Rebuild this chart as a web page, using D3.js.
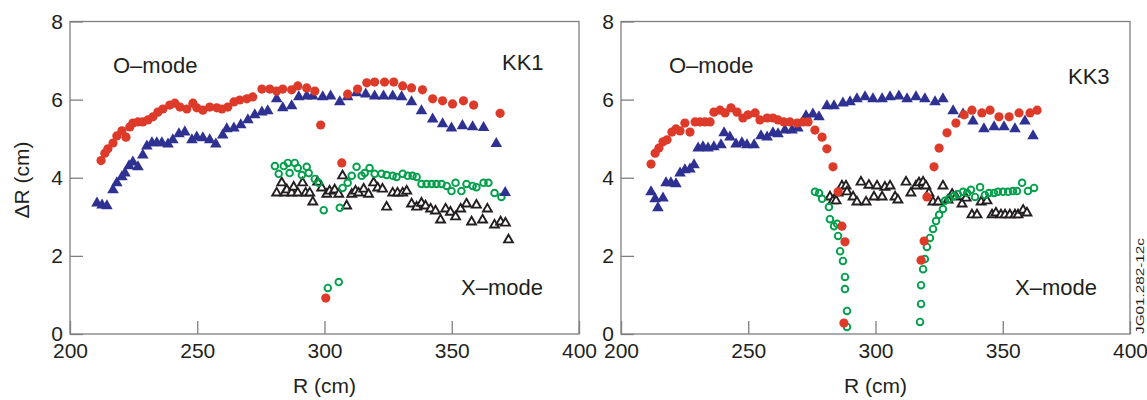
<!DOCTYPE html>
<html>
<head>
<meta charset="utf-8">
<script src="https://cdn.jsdelivr.net/npm/d3@7"></script>
<style>
  body { margin: 0; background: #fff; }
  svg { display: block; font-family: "Liberation Sans", Arial, sans-serif; }
  .frame { fill: none; stroke: #7f7f7f; stroke-width: 1.3; }
  .axis path { display: none; }
  .axis line { stroke: #7f7f7f; stroke-width: 1.3; }
  .axis text { font-size: 21px; fill: #231f20; font-family: "Liberation Sans", Arial, sans-serif; }
  .lbl { font-size: 21px; fill: #231f20; }
  .mode { font-size: 22px; fill: #231f20; }
</style>
</head>
<body>
<script>
'use strict';

// [R (cm), dR (cm)]
const kk1Red = [
  [212.2,4.44],[213.7,4.63],[214.9,4.74],[216.9,4.89],[218.4,5.07],[220.4,5.20],[222.0,5.04],
  [223.5,5.30],[224.7,5.40],[226.7,5.43],[228.6,5.43],[230.6,5.48],[232.6,5.56],[234.5,5.68],
  [236.5,5.76],[239.2,5.86],[241.2,5.91],[243.2,5.81],[245.9,5.76],[248.3,5.91],[249.8,5.79],
  [252.2,5.73],[254.9,5.81],[257.7,5.79],[259.7,5.76],[262.0,5.81],[264.4,5.94],[266.7,5.99],
  [269.5,6.02],[271.8,6.07],[275.4,6.27],[278.5,6.27],[281.2,6.22],[283.6,6.27],[287.1,6.25],
  [289.5,6.35],[293.0,6.30],[296.2,6.22],[298.5,5.35],[300.5,0.92],[306.8,4.38],[309.1,6.14],
  [313.0,6.27],[316.6,6.43],[319.7,6.45],[323.6,6.45],[327.2,6.45],[330.7,6.35],[334.2,6.30],
  [338.5,6.25],[342.5,6.02],[346.4,5.97],[350.3,5.89],[354.6,5.97],[358.6,5.86],[369.0,5.65]
];
const kk1Blue = [
  [210.6,3.35],[212.6,3.30],[214.5,3.28],[216.9,3.69],[218.4,3.87],[220.4,4.02],[221.6,4.12],
  [223.2,4.30],[224.7,4.40],[226.7,4.28],[228.6,4.58],[230.2,4.81],[232.2,4.89],[234.1,4.89],
  [236.1,4.89],[238.5,4.86],[240.4,4.97],[242.8,5.12],[245.1,5.17],[247.9,4.97],[249.8,5.04],
  [252.2,5.02],[254.9,4.97],[257.3,4.86],[260.0,5.09],[261.6,5.25],[264.4,5.27],[267.1,5.35],
  [269.9,5.48],[272.6,5.61],[275.4,5.68],[277.7,5.71],[281.2,6.02],[283.6,5.79],[287.1,5.84],
  [289.9,6.07],[293.0,6.09],[295.4,6.09],[299.3,6.07],[302.4,6.09],[306.0,5.94],[309.1,6.07],
  [312.6,6.17],[316.2,6.14],[319.7,6.09],[323.2,6.09],[326.8,6.09],[330.3,6.07],[334.2,5.94],
  [338.1,5.71],[342.5,5.50],[346.4,5.38],[349.9,5.27],[354.2,5.33],[358.2,5.30],[362.5,5.28],
  [367.5,4.87],[371.0,3.62]
];
const kk1Green = [
  [280.5,4.30],[282.0,4.10],[284.0,4.30],[285.6,4.38],[286.3,4.12],[288.3,4.38],[289.5,4.25],
  [291.1,4.07],[293.0,4.28],[293.8,4.12],[296.2,3.97],[297.7,3.87],[299.7,3.17],[301.3,1.18],
  [305.6,1.33],[306.0,3.23],[307.1,3.74],[309.1,3.87],[310.7,4.05],[312.6,4.28],[314.6,4.05],
  [315.8,4.12],[317.7,4.25],[319.7,4.10],[322.4,4.10],[324.4,4.07],[326.8,4.05],[328.3,4.02],
  [330.7,4.10],[332.7,4.05],[334.6,4.05],[336.2,4.02],[338.1,3.84],[340.1,3.84],[342.1,3.84],
  [344.0,3.84],[346.0,3.84],[348.0,3.79],[349.9,3.66],[351.5,3.87],[353.8,3.66],[355.8,3.84],
  [358.2,3.79],[359.7,3.76],[362.5,3.87],[364.4,3.87],[366.8,3.61],[369.5,3.51]
];
const kk1Black = [
  [281.2,3.61],[283.2,3.87],[284.4,3.61],[285.2,3.69],[287.1,3.61],[287.9,3.76],[289.5,3.61],
  [291.4,3.87],[292.6,3.61],[294.2,3.61],[295.4,3.38],[297.3,3.89],[298.9,3.74],[300.9,3.58],
  [302.0,3.66],[304.0,3.69],[305.6,3.58],[307.1,4.05],[308.7,3.28],[310.7,3.58],[312.2,3.66],
  [313.4,3.61],[315.4,3.71],[317.3,3.58],[319.3,3.87],[320.9,3.74],[322.8,3.71],[324.4,3.25],
  [326.8,3.61],[328.7,3.61],[330.7,3.61],[332.3,3.66],[334.2,3.33],[336.2,3.25],[338.1,3.35],
  [339.7,3.28],[341.7,3.20],[343.6,3.15],[345.6,2.92],[347.6,3.20],[349.5,3.12],[351.5,3.00],
  [353.5,3.20],[355.8,3.33],[357.8,2.87],[359.7,3.30],[362.1,2.92],[364.0,3.20],[366.8,2.79],
  [369.2,2.87],[371.1,2.84],[372.3,2.41]
];

const kk3Red = [
  [211.8,4.35],[213.4,4.63],[214.9,4.76],[216.5,4.92],[218.1,4.97],[220.0,5.17],[221.6,5.25],
  [223.2,5.20],[225.1,5.40],[227.1,5.17],[229.1,5.43],[231.0,5.43],[233.0,5.43],[235.0,5.43],
  [236.5,5.68],[238.9,5.73],[240.9,5.66],[243.2,5.79],[245.6,5.68],[247.9,5.53],[249.9,5.61],
  [252.7,5.66],[254.6,5.48],[257.4,5.53],[259.7,5.53],[261.7,5.48],[264.0,5.43],[266.4,5.43],
  [269.2,5.40],[271.5,5.43],[273.5,5.43],[276.2,5.22],[279.0,5.04],[280.9,4.74],[283.3,4.28],
  [285.3,3.64],[286.8,2.76],[288.0,2.36],[287.6,0.28],[317.9,1.89],[319.1,2.38],[320.2,3.51],
  [323.0,4.28],[325.0,4.76],[328.1,5.15],[331.6,5.40],[334.8,5.61],[337.9,5.73],[341.8,5.66],
  [345.0,5.73],[348.5,5.56],[352.5,5.56],[356.4,5.66],[360.7,5.66],[363.5,5.73]
];
const kk3Blue = [
  [211.8,3.64],[213.4,3.46],[214.5,3.23],[216.5,3.48],[217.7,3.87],[219.6,3.87],[221.6,3.84],
  [223.2,4.12],[225.1,4.20],[227.1,4.22],[228.7,4.33],[230.3,4.76],[232.2,4.79],[234.2,4.76],
  [236.5,4.79],[239.3,4.84],[240.5,5.15],[242.8,5.04],[245.2,4.86],[247.5,4.89],[249.5,4.84],
  [252.3,4.84],[255.0,5.07],[257.4,5.04],[259.7,5.15],[261.7,5.12],[264.4,5.22],[267.2,5.22],
  [269.5,5.27],[272.7,5.58],[275.4,5.63],[277.8,5.56],[280.9,5.84],[283.7,5.84],[287.2,5.91],
  [290.0,5.94],[292.7,6.02],[295.9,6.07],[299.0,6.02],[302.6,6.02],[305.7,6.07],[309.2,6.09],
  [312.4,6.02],[315.9,6.07],[319.4,6.02],[323.4,5.94],[326.5,6.02],[330.5,5.71],[334.4,5.63],
  [338.3,5.45],[342.6,5.25],[346.6,5.30],[350.5,5.30],[354.8,5.25],[358.7,5.45],[361.9,5.07]
];
const kk3Green = [
  [276.2,3.64],[277.8,3.61],[279.0,3.46],[281.7,3.25],[282.1,2.94],[283.7,2.76],[284.9,2.82],
  [285.3,2.51],[286.1,2.12],[287.2,1.87],[288.0,1.46],[288.0,1.15],[288.8,0.59],[288.8,0.18],
  [317.5,0.31],[317.9,0.77],[317.9,1.25],[318.7,1.66],[319.4,1.92],[320.2,2.23],[321.4,2.46],
  [322.6,2.69],[323.8,2.89],[325.0,3.05],[326.5,3.20],[327.3,3.41],[328.9,3.46],[330.8,3.53],
  [332.4,3.58],[334.4,3.64],[336.0,3.61],[337.5,3.69],[339.1,3.51],[341.1,3.76],[343.0,3.56],
  [344.6,3.61],[346.6,3.61],[348.1,3.64],[350.1,3.64],[352.1,3.64],[354.0,3.66],[355.6,3.66],
  [357.6,3.87],[359.9,3.66],[362.3,3.74]
];
const kk3Black = [
  [282.1,3.51],[283.3,3.41],[284.5,3.41],[285.3,3.61],[286.8,3.79],[288.4,3.79],[288.8,3.64],
  [291.2,3.51],[292.7,3.38],[294.3,3.89],[296.3,3.38],[297.4,3.81],[299.4,3.51],[300.6,3.79],
  [302.6,3.51],[303.7,3.76],[305.7,3.79],[307.7,3.51],[308.8,3.43],[312.0,3.89],[313.9,3.61],
  [315.9,3.79],[317.1,3.87],[318.7,3.89],[319.8,3.79],[321.0,3.61],[322.6,3.38],[324.6,3.38],
  [326.5,3.79],[328.5,3.43],[330.1,3.58],[331.6,3.51],[334.0,3.33],[335.6,3.48],[337.9,3.05],
  [339.9,3.05],[341.5,3.38],[343.8,3.41],[345.8,3.05],[347.3,3.10],[349.3,3.05],[350.9,3.05],
  [352.8,3.05],[354.8,3.05],[356.0,3.05],[358.0,3.17],[359.5,3.10]
];

const xTicks = [200, 250, 300, 350, 400];
const yTicks = [0, 2, 4, 6, 8];

const panels = [
  { left: 70, right: 579, red: kk1Red, blue: kk1Blue, green: kk1Green, black: kk1Black,
    name: "KK1", nameX: 502, nameY: 70, oX: 113, xmX: 461 },
  { left: 621, right: 1130, red: kk3Red, blue: kk3Blue, green: kk3Green, black: kk3Black,
    name: "KK3", nameX: 1068, nameY: 84, oX: 669, xmX: 1015 }
];

const W = 1147, H = 400, plotTop = 21.5, plotBottom = 334;

const svg = d3.select("body").append("svg")
  .attr("width", W)
  .attr("height", H);

const y = d3.scaleLinear([0, 8], [plotBottom, plotTop]);

const triBig = d3.symbol(d3.symbolTriangle, 58)(),
      triSmall = d3.symbol(d3.symbolTriangle, 34)();

for (const p of panels) {
  const x = d3.scaleLinear([200, 400], [p.left, p.right]);
  const g = svg.append("g");

  g.append("rect").attr("class", "frame")
    .attr("x", p.left).attr("y", plotTop)
    .attr("width", p.right - p.left).attr("height", plotBottom - plotTop);

  g.append("g").attr("class", "axis")
    .attr("transform", `translate(${p.left},0)`)
    .call(d3.axisLeft(y).tickValues(yTicks).tickSizeInner(-13).tickSizeOuter(0).tickPadding(7));

  g.append("g").attr("class", "axis")
    .attr("transform", `translate(0,${plotBottom})`)
    .call(d3.axisBottom(x).tickValues(xTicks).tickSizeInner(-13).tickSizeOuter(0).tickPadding(9));

  // X-mode open symbols first, O-mode filled on top
  g.append("g").selectAll("path").data(p.black).join("path")
    .attr("d", triSmall)
    .attr("transform", d => `translate(${x(d[0])},${y(d[1])})`)
    .attr("fill", "#fff").attr("stroke", "#231f20").attr("stroke-width", 1.9);

  g.append("g").selectAll("circle").data(p.green).join("circle")
    .attr("cx", d => x(d[0])).attr("cy", d => y(d[1])).attr("r", 3.3)
    .attr("fill", "none").attr("stroke", "#00a04b").attr("stroke-width", 1.9);

  g.append("g").selectAll("path").data(p.blue).join("path")
    .attr("d", triBig)
    .attr("transform", d => `translate(${x(d[0])},${y(d[1])})`)
    .attr("fill", "#2e3192");

  g.append("g").selectAll("circle").data(p.red).join("circle")
    .attr("cx", d => x(d[0])).attr("cy", d => y(d[1])).attr("r", 4.6)
    .attr("fill", "#dd3a2a");

  g.append("text").attr("class", "mode").attr("x", p.oX).attr("y", 73).text("O\u2013mode");
  g.append("text").attr("class", "mode").attr("x", p.nameX).attr("y", p.nameY).text(p.name);
  g.append("text").attr("class", "mode").attr("x", p.xmX).attr("y", 295).text("X\u2013mode");

  g.append("text").attr("class", "lbl")
    .attr("x", (p.left + p.right) / 2).attr("y", 393)
    .attr("text-anchor", "middle").text("R (cm)");
}

svg.append("text").attr("class", "lbl")
  .attr("transform", "translate(29,180) rotate(-90)")
  .attr("text-anchor", "middle").text("\u0394R (cm)");

svg.append("text")
  .attr("transform", "translate(1144,286) rotate(-90)")
  .attr("text-anchor", "middle")
  .attr("font-size", 11).attr("fill", "#231f20")
  .attr("textLength", 96).attr("lengthAdjust", "spacingAndGlyphs")
  .text("JG01.282-12c");
</script>
</body>
</html>
